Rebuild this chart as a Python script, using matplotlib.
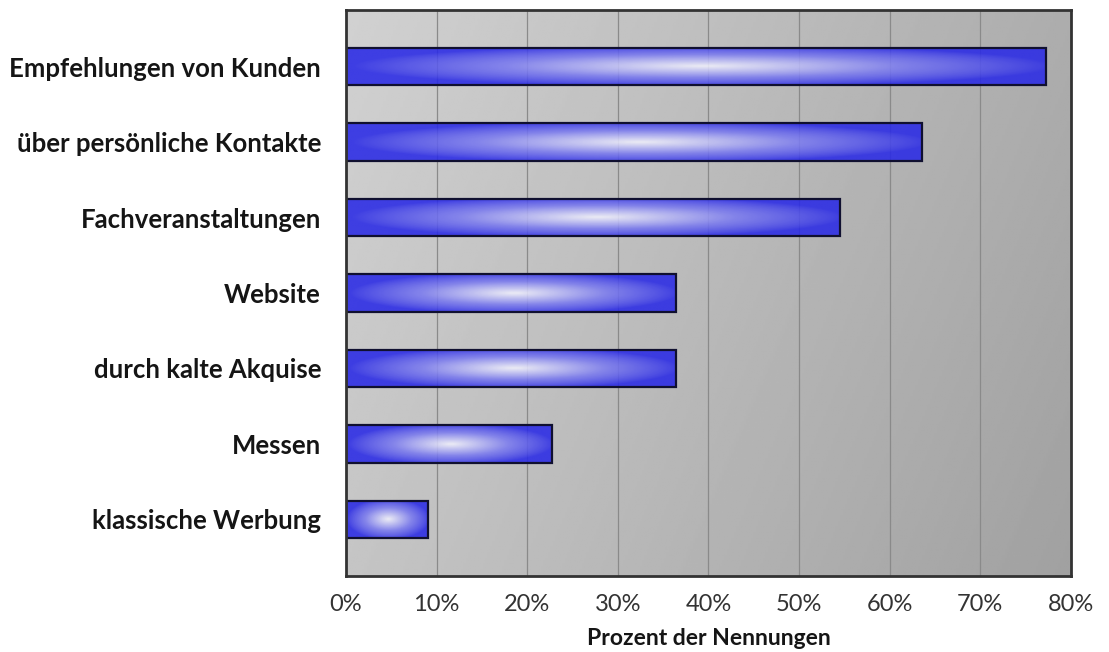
import numpy as np
import matplotlib
matplotlib.use("Agg")
import matplotlib.pyplot as plt
from matplotlib.colors import LinearSegmentedColormap

# Kanäle der Kundengewinnung, Anteil der Nennungen in %
kanaele = [
    "Empfehlungen von Kunden",
    "über persönliche Kontakte",
    "Fachveranstaltungen",
    "Website",
    "durch kalte Akquise",
    "Messen",
    "klassische Werbung",
]
prozent = [77.3, 63.6, 54.5, 36.4, 36.4, 22.7, 9.1]
xticks = [0, 10, 20, 30, 40, 50, 60, 70, 80]

fig = plt.figure(figsize=(11.09, 6.52), dpi=100)
ax = fig.add_axes([0.312, 0.1166, 0.6537, 0.8681])

# grauer Verlauf im Hintergrund, oben links hell, unten rechts dunkel
gx, gy = np.meshgrid(np.linspace(0, 1, 300), np.linspace(0, 1, 200))
shade = 0.82 - 0.19 * (0.75 * gx + 0.25 * gy)
ax.imshow(shade, cmap="gray", vmin=0, vmax=1, extent=[0, 1, 0, 1],
          transform=ax.transAxes, aspect="auto", zorder=0, origin="upper")

ypos = np.arange(len(kanaele))
bar_h = 0.5
bars = ax.barh(ypos, prozent, height=bar_h, facecolor="none",
               edgecolor="#101030", linewidth=1.6, zorder=4)

blau = LinearSegmentedColormap.from_list("blau", ["#2a2ae6", "#7c7cf0", "#f2f2fc"])
for rect, val, y in zip(bars, prozent, ypos):
    bx, by = np.meshgrid(np.linspace(-1, 1, 400), np.linspace(-1, 1, 60))
    d = np.sqrt((bx - 0.02) ** 2 + (by / 1.1) ** 2)
    glow = np.clip(1 - d, 0, 1) ** 0.85
    im = ax.imshow(glow, cmap=blau, vmin=0, vmax=1,
                   extent=[0, val, y - bar_h / 2, y + bar_h / 2],
                   aspect="auto", zorder=3, alpha=0.88, interpolation="bilinear")
    im.set_clip_path(rect)

ax.set_xlim(0, 80)
ax.set_ylim(len(kanaele) - 0.25, -0.75)
ax.set_xticks(xticks)
ax.set_xticklabels([f"{t}%" for t in xticks], fontsize=17, color="#333333",
                   family="Lato")
ax.set_yticks(ypos)
ax.set_yticklabels(kanaele, fontsize=18.5, fontweight="bold", family="Lato",
                   color="#151515")
ax.tick_params(axis="both", length=0)
ax.tick_params(axis="y", pad=18)
ax.tick_params(axis="x", pad=13)

ax.grid(axis="x", color="#8a8a8a", linewidth=0.9, zorder=1)
ax.set_axisbelow(False)
for sp in ax.spines.values():
    sp.set_color("#333333")
    sp.set_linewidth(2)
    sp.set_zorder(5)

ax.set_xlabel("Prozent der Nennungen", fontsize=16.5, fontweight="bold",
              family="Lato", labelpad=9, color="#151515")

fig.savefig("out.png", dpi=100)
